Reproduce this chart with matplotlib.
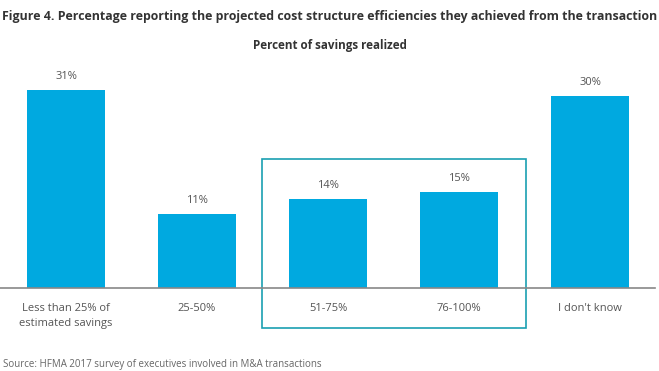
import matplotlib.pyplot as plt
from matplotlib.patches import Rectangle

# chart data (bar heights, labels as printed)
categories = ["Less than 25% of\nestimated savings", "25-50%", "51-75%", "76-100%", "I don't know"]
values = [31, 11.6, 13.9, 15, 30]
value_labels = ["31%", "11%", "14%", "15%", "30%"]

plt.rcParams['font.family'] = ['Open Sans', 'DejaVu Sans']

bar_color = "#00a9e0"
text_color = "#555555"

fig = plt.figure(figsize=(6.59, 3.71), dpi=100)
ax = fig.add_axes([0, 0.2237, 655 / 659, 0.6027])

x = list(range(len(categories)))
ax.bar(x, values, width=0.6, color=bar_color)

# value labels above bars
for i, v in enumerate(values):
    ax.text(i, v + 1.3, value_labels[i], ha="center", va="bottom", fontsize=8, color=text_color)

ax.set_xlim(-0.504, 4.496)
ax.set_ylim(0, 35)

ax.set_xticks(x)
ax.set_xticklabels(categories, fontsize=8, color=text_color, linespacing=1.45, va="top")
ax.tick_params(axis="x", length=0, pad=11)
ax.set_yticks([])
for s in ["top", "right", "left"]:
    ax.spines[s].set_visible(False)
ax.spines["bottom"].set_color("#888888")
ax.spines["bottom"].set_linewidth(1.2)

# highlight box around the middle two bars
ax.add_patch(Rectangle((1.496, -6.26), 2.015, 26.45, fill=False,
                       edgecolor="#1aa0b2", linewidth=1.2, clip_on=False))

fig.text(0.003, 0.972, "Figure 4. Percentage reporting the projected cost structure efficiencies they achieved from the transaction",
         fontsize=8.9, fontweight="bold", color="#333333", ha="left", va="top")
fig.text(0.5, 0.878, "Percent of savings realized", fontsize=8.4, fontweight="bold",
         color="#333333", ha="center", va="center")
fig.text(0.004, 0.004, "Source: HFMA 2017 survey of executives involved in M&A transactions",
         fontsize=7, color="#666666", ha="left", va="bottom")

fig.savefig("out.png", dpi=100)
